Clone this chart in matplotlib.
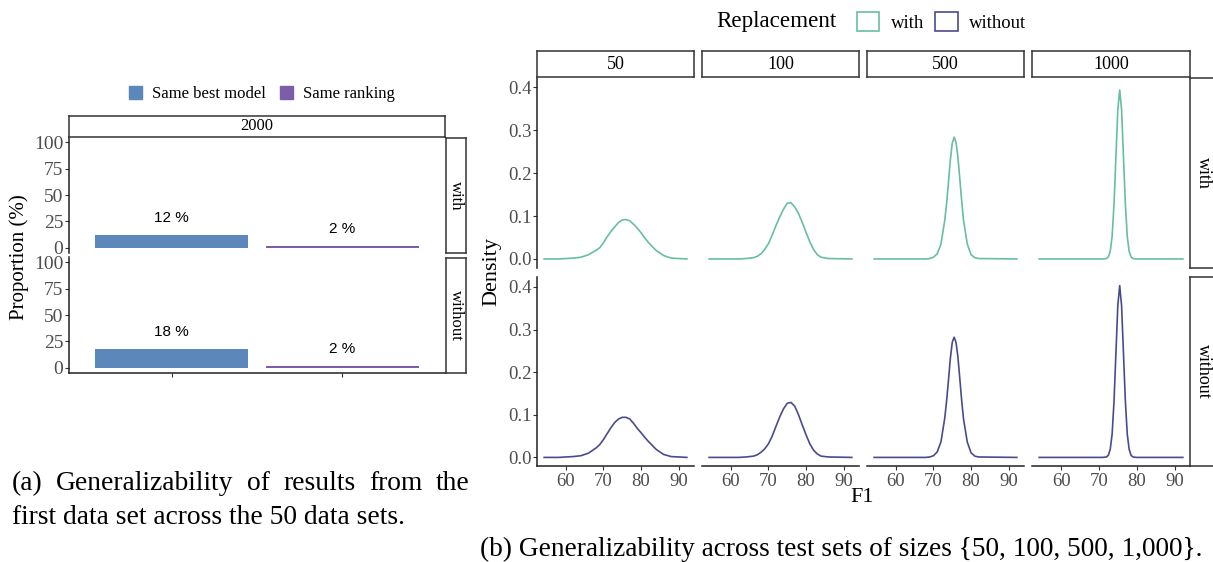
import numpy as np
import matplotlib.pyplot as plt
from matplotlib.patches import Patch

W, H = 1213, 562
SERIF = ["Liberation Serif", "DejaVu Serif"]
SANS = ["Liberation Sans", "DejaVu Sans"]
plt.rcParams["font.family"] = SERIF

# ---- (a) proportions (%) ----
cats = ["Same best model", "Same ranking"]
rows_a = ["with", "without"]
prop_with = [12, 2]
prop_without = [18, 2]
bar_colors = ["#5b87bb", "#7b5ea7"]

# ---- (b) density of F1 per test-set size ----
sizes = ["50", "100", "500", "1000"]
x50 = [54.2, 58, 62, 64, 66, 68, 69, 70, 71, 72, 73, 74, 75, 76, 77, 78,
       79, 80, 81, 82, 84, 86, 88, 92.2]
dens_with_50 = [0, 0, 0.002, 0.004, 0.01, 0.02, 0.026, 0.038, 0.052, 0.064,
                0.075, 0.085, 0.091, 0.092, 0.089, 0.081, 0.072, 0.061,
                0.049, 0.038, 0.02, 0.008, 0.002, 0]
dens_without_50 = [0, 0, 0.002, 0.004, 0.01, 0.022, 0.03, 0.042, 0.056,
                   0.07, 0.082, 0.09, 0.094, 0.094, 0.09, 0.08, 0.068,
                   0.058, 0.047, 0.037, 0.019, 0.007, 0.002, 0]
x100 = [54.2, 62, 64, 66, 67, 68, 69, 70, 71, 72, 73, 74, 75, 76, 77, 78,
        79, 80, 81, 82, 83, 84, 86, 92.2]
dens_with_100 = [0, 0, 0.001, 0.003, 0.006, 0.012, 0.022, 0.036, 0.056,
                 0.078, 0.098, 0.116, 0.13, 0.131, 0.121, 0.106, 0.085,
                 0.062, 0.04, 0.022, 0.01, 0.004, 0.001, 0]
dens_without_100 = [0, 0, 0.001, 0.003, 0.006, 0.012, 0.02, 0.032, 0.05,
                    0.073, 0.095, 0.114, 0.127, 0.129, 0.12, 0.1, 0.076,
                    0.053, 0.032, 0.017, 0.008, 0.003, 0.001, 0]
x500 = [54.2, 68, 69, 70, 71, 72, 73, 73.5, 74, 74.5, 75, 75.5, 76, 76.5,
        77, 77.5, 78, 79, 80, 81, 82, 92.2]
dens_with_500 = [0, 0, 0.001, 0.004, 0.012, 0.035, 0.09, 0.13, 0.18, 0.232,
                 0.27, 0.284, 0.272, 0.238, 0.188, 0.136, 0.09, 0.035,
                 0.01, 0.003, 0.001, 0]
dens_without_500 = [0, 0, 0.001, 0.004, 0.013, 0.037, 0.092, 0.133, 0.182,
                    0.233, 0.27, 0.282, 0.27, 0.236, 0.186, 0.134, 0.09,
                    0.036, 0.011, 0.003, 0.001, 0]
x1000 = [54.2, 71, 72, 72.5, 73, 73.5, 74, 74.5, 75, 75.5, 76, 76.5, 77,
         77.5, 78, 78.5, 79, 80, 92.2]
dens_with_1000 = [0, 0, 0.001, 0.005, 0.018, 0.053, 0.128, 0.238, 0.348,
                  0.394, 0.348, 0.238, 0.128, 0.053, 0.018, 0.005, 0.001,
                  0, 0]
dens_without_1000 = [0, 0, 0.001, 0.005, 0.019, 0.055, 0.132, 0.244, 0.356,
                     0.403, 0.356, 0.244, 0.132, 0.055, 0.019, 0.005, 0.001,
                     0, 0]

repl_colors = {"with": "#66bf9f", "without": "#4b4a8e"}
TICK_GRAY = "#4d4d4d"

fig = plt.figure(figsize=(W / 100, H / 100), dpi=100)


def box(l, t, r, b):
    return [l / W, 1 - b / H, (r - l) / W, (b - t) / H]


def strip(l, t, r, b, label, rotation=0, size=12):
    s = fig.add_axes(box(l, t, r, b))
    s.set_xticks([])
    s.set_yticks([])
    for sp in s.spines.values():
        sp.set_linewidth(1.1)
        sp.set_color("#333333")
    s.text(0.5, 0.5, label, ha="center", va="center", rotation=rotation,
           fontsize=size, transform=s.transAxes)
    return s


def style_axes(ax, left, bottom, size):
    for name in ["top", "right"]:
        ax.spines[name].set_visible(False)
    ax.spines["left"].set_visible(left)
    ax.spines["bottom"].set_visible(bottom)
    for name in ["left", "bottom"]:
        ax.spines[name].set_linewidth(1.1)
        ax.spines[name].set_color("#222222")
    ax.tick_params(axis="y", left=left, labelleft=left, length=3,
                   color="#333333", labelcolor=TICK_GRAY, labelsize=size, pad=1)
    ax.tick_params(axis="x", bottom=bottom, labelbottom=bottom, length=3,
                   color="#333333", labelcolor=TICK_GRAY, labelsize=size, pad=2)


# ---------------- panel (a) ----------------
xs = np.arange(1, len(cats) + 1)
for row, vals, (t, b) in zip(rows_a, [prop_with, prop_without],
                             [(137, 253), (257, 373)]):
    ax = fig.add_axes(box(69, t, 445, b))
    ax.bar(xs, vals, width=0.9, color=bar_colors)
    for x, v in zip(xs, vals):
        ax.text(x, v + 16, f"{v} %", ha="center", va="center", fontsize=11,
                family=SANS)
    ax.set_xlim(0.4, 2.6)
    ax.set_ylim(-5, 105)
    ax.set_yticks([0, 25, 50, 75, 100])
    ax.set_xticks(xs)
    ax.set_xticklabels([])
    style_axes(ax, True, row == "without", 14)
    strip(446, t + 1, 466, b, row, rotation=-90, size=12)

strip(69, 116, 445, 137, "2000", size=12)
fig.text(19 / W, 1 - 257 / H, "Proportion (%)", rotation=90, ha="center",
         va="center", fontsize=15)
fig.legend(handles=[Patch(color=c, label=l) for c, l in zip(bar_colors, cats)],
           loc="center", bbox_to_anchor=(262 / W, 1 - 94 / H), ncol=2,
           frameon=False, fontsize=12, handlelength=0.8, handleheight=0.8,
           handletextpad=0.6, columnspacing=0.8)

# ---------------- panel (b) ----------------
cols_x = [(537, 694), (702, 859), (867, 1024), (1032, 1190)]
rows_y = [(77.5, 267.6), (277, 466)]
xdata = [x50, x100, x500, x1000]
dens = {"with": [dens_with_50, dens_with_100, dens_with_500, dens_with_1000],
        "without": [dens_without_50, dens_without_100, dens_without_500,
                    dens_without_1000]}
ymax = max(max(d) for v in dens.values() for d in v)
xmin, xmax = min(min(x) for x in xdata), max(max(x) for x in xdata)
xpad = 0.05 * (xmax - xmin)

for r, (row, (t, b)) in enumerate(zip(rows_a, rows_y)):
    for c, (l, rr) in enumerate(cols_x):
        ax = fig.add_axes(box(l, t, rr, b))
        ax.plot(xdata[c], dens[row][c], color=repl_colors[row], lw=1.2)
        ax.set_xlim(xmin - xpad, xmax + xpad)
        ax.set_ylim(-0.05 * ymax, 1.05 * ymax)
        ax.set_xticks([60, 70, 80, 90])
        ax.set_yticks([0, 0.1, 0.2, 0.3, 0.4])
        ax.set_yticklabels(["0.0", "0.1", "0.2", "0.3", "0.4"])
        style_axes(ax, c == 0, r == 1, 13.5)
        if r == 0:
            strip(l, 51, rr, 77, sizes[c], size=13)
    strip(1190, t, 1216, b, row, rotation=-90, size=13)

fig.text(492 / W, 1 - 272 / H, "Density", rotation=90, ha="center",
         va="center", fontsize=16)
fig.text(862 / W, 1 - 498 / H, "F1", ha="center", va="center", fontsize=16)
fig.text(716 / W, 1 - 22 / H, "Replacement", ha="left", va="center",
         fontsize=16.6)
fig.legend(handles=[Patch(facecolor="white", edgecolor=repl_colors[k], lw=1.2,
                          label=k) for k in rows_a],
           loc="center left", bbox_to_anchor=(840 / W, 1 - 22 / H), ncol=2,
           frameon=False, fontsize=13.5, handlelength=1.2, handleheight=1.2,
           handletextpad=0.6, columnspacing=0.6)

# ---------------- captions ----------------
fig.canvas.draw()
renderer = fig.canvas.get_renderer()


def justified(words, x0, x1, y, size):
    """place words so that the line spans x0..x1 pixels"""
    widths = []
    for w in words:
        t = fig.text(0, 0, w, fontsize=size)
        widths.append(t.get_window_extent(renderer).width)
        t.remove()
    gap = (x1 - x0 - sum(widths)) / (len(words) - 1)
    x = x0
    for w, wd in zip(words, widths):
        fig.text(x / W, 1 - y / H, w, fontsize=size, va="center")
        x += wd + gap


justified("(a) Generalizability of results from the".split(), 12, 470, 484, 19.8)
fig.text(12 / W, 1 - 518 / H, "first data set across the 50 data sets.",
         fontsize=19.8, va="center")
fig.text(480 / W, 1 - 549 / H,
         "(b) Generalizability across test sets of sizes {50, 100, 500, 1,000}.",
         fontsize=19.6, va="center")

fig.savefig("out.png", dpi=100)
